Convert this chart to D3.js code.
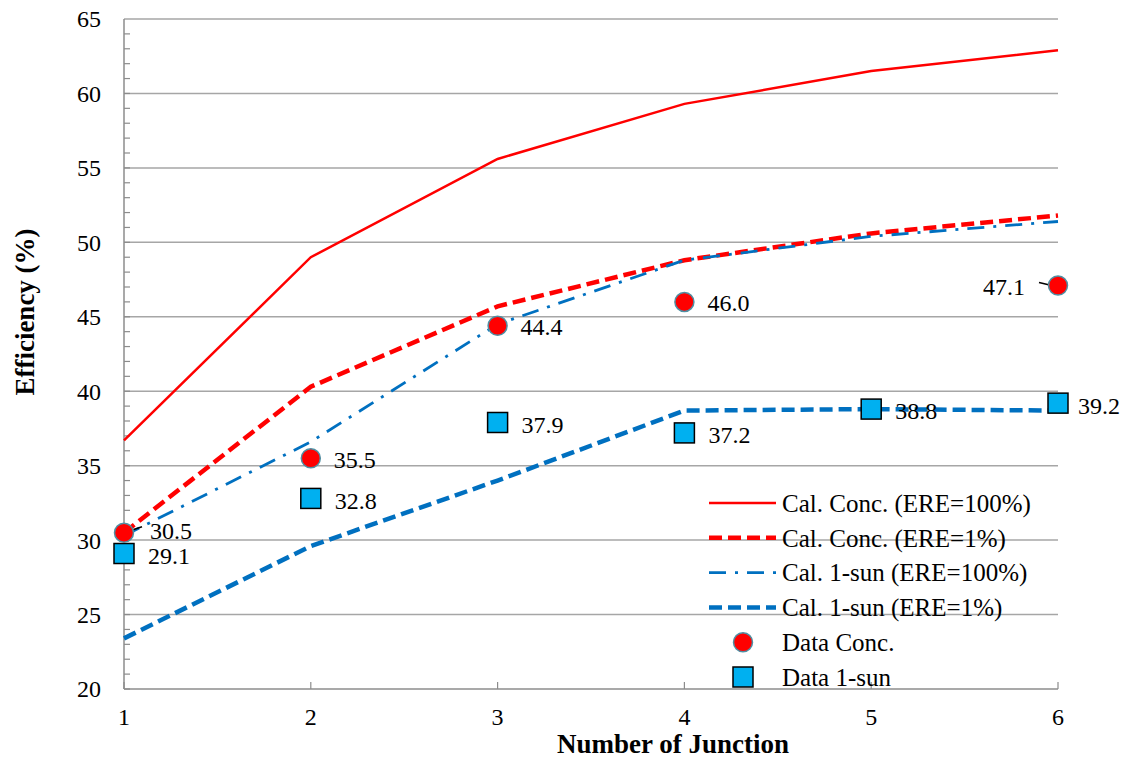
<!DOCTYPE html>
<html>
<head>
<meta charset="utf-8">
<script src="https://cdn.jsdelivr.net/npm/d3@7"></script>
<style>
  body { margin: 0; background: #fff; }
  text { font-family: "Liberation Serif", "Times New Roman", serif; fill: #000; }
</style>
</head>
<body>
<svg id="chart" width="1130" height="758"></svg>
<script>
// junction counts and series
var junctions = [1, 2, 3, 4, 5, 6];
var calConc100 = [36.7, 49.0, 55.6, 59.3, 61.5, 62.9];
var calConc1 = [30.5, 40.3, 45.7, 48.8, 50.6, 51.8];
var calSun100 = [30.3, 36.6, 44.5, 48.8, 50.4, 51.4];
var calSun1 = [23.4, 29.6, 34.0, 38.7, 38.8, 38.7];
var dataConcX = [1, 2, 3, 4, 6];
var dataConc = [30.5, 35.5, 44.4, 46.0, 47.1];
var dataSunX = [1, 2, 3, 4, 5, 6];
var dataSun = [29.1, 32.8, 37.9, 37.2, 38.8, 39.2];
var yTicks = [20, 25, 30, 35, 40, 45, 50, 55, 60, 65];

var svg = d3.select("#chart");
var x = d3.scaleLinear().domain([1, 6]).range([124, 1058]);
var y = d3.scaleLinear().domain([20, 65]).range([689, 19]);
var grey = "#8c8c8c";

// grid lines
svg.append("g").selectAll("line").data(yTicks.slice(1)).join("line")
    .attr("x1", x(1)).attr("x2", x(6))
    .attr("y1", d => y(d)).attr("y2", d => y(d))
    .attr("stroke", "#a6a6a6").attr("stroke-width", 1.5);

// y axis, minor ticks inward
svg.append("line").attr("x1", x(1)).attr("x2", x(1)).attr("y1", y(20)).attr("y2", y(65))
    .attr("stroke", grey).attr("stroke-width", 1.5);
svg.append("g").selectAll("line").data(d3.range(20, 65)).join("line")
    .attr("x1", x(1)).attr("x2", x(1) + 6)
    .attr("y1", d => y(d)).attr("y2", d => y(d))
    .attr("stroke", grey).attr("stroke-width", 1.2);
svg.append("g").selectAll("text").data(yTicks).join("text")
    .attr("x", 101).attr("y", d => y(d)).attr("dy", "0.35em")
    .attr("text-anchor", "end").style("font-size", "24px")
    .text(d => d);

// x axis, ticks inward
svg.append("line").attr("x1", x(1)).attr("x2", x(6)).attr("y1", y(20)).attr("y2", y(20))
    .attr("stroke", grey).attr("stroke-width", 1.5);
svg.append("g").selectAll("line").data(junctions).join("line")
    .attr("x1", d => x(d)).attr("x2", d => x(d))
    .attr("y1", y(20)).attr("y2", y(20) - 7)
    .attr("stroke", grey).attr("stroke-width", 1.2);
svg.append("g").selectAll("text").data(junctions).join("text")
    .attr("x", d => x(d)).attr("y", 725)
    .attr("text-anchor", "middle").style("font-size", "24px")
    .text(d => d);

svg.append("text").attr("x", 673).attr("y", 753).attr("text-anchor", "middle")
    .style("font-size", "27px").style("font-weight", "bold")
    .text("Number of Junction");
svg.append("text").attr("transform", "translate(34,312) rotate(-90)")
    .attr("text-anchor", "middle")
    .style("font-size", "27px").style("font-weight", "bold")
    .text("Efficiency (%)");

// calculated curves
var series = [
  {name: "Cal. Conc. (ERE=100%)", vals: calConc100, color: "#ff0000", w: 2.5, dash: null},
  {name: "Cal. Conc. (ERE=1%)", vals: calConc1, color: "#ff0000", w: 4.5, dash: "13,6"},
  {name: "Cal. 1-sun (ERE=100%)", vals: calSun100, color: "#0070c0", w: 2.8, dash: "17,9,3,9"},
  {name: "Cal. 1-sun (ERE=1%)", vals: calSun1, color: "#0070c0", w: 4.5, dash: "13,6"}
];
var line = d3.line().x((d, i) => x(junctions[i])).y(d => y(d));
series.forEach(function(s){
    svg.append("path").datum(s.vals)
	.attr("d", line)
	.attr("fill", "none")
	.attr("stroke", s.color)
	.attr("stroke-width", s.w)
	.attr("stroke-dasharray", s.dash);
});

// leader lines for the end labels
svg.append("line").attr("x1", x(1)).attr("y1", y(dataConc[0]))
    .attr("x2", x(1) + 18).attr("y2", y(dataConc[0]) - 6)
    .attr("stroke", "#000").attr("stroke-width", 1.5);
svg.append("line").attr("x1", x(6) - 2).attr("y1", y(dataConc[4]) + 1)
    .attr("x2", x(6) - 19).attr("y2", y(dataConc[4]) - 3)
    .attr("stroke", "#000").attr("stroke-width", 1.5);

// data markers
function circle(g, cx, cy){
    g.append("circle").attr("cx", cx).attr("cy", cy).attr("r", 9.5)
	.attr("fill", "#ff0000").attr("stroke", "#4f8fa3").attr("stroke-width", 1.5);
}
function square(g, cx, cy){
    g.append("rect").attr("x", cx - 10).attr("y", cy - 10)
	.attr("width", 20).attr("height", 20)
	.attr("fill", "#00b0f0").attr("stroke", "#000").attr("stroke-width", 1.5);
}
var marks = svg.append("g");
dataSun.forEach((v, i) => square(marks, x(dataSunX[i]), y(v)));
dataConc.forEach((v, i) => circle(marks, x(dataConcX[i]), y(v)));

// value labels
var labels = svg.append("g").style("font-size", "24px");
dataConc.forEach(function(v, i){
    var last = i == dataConc.length - 1;
    labels.append("text")
	.attr("x", last ? x(dataConcX[i]) - 33 : x(dataConcX[i]) + (i == 0 ? 26 : 23))
	.attr("y", y(v) + (i == 0 ? -2 : 1)).attr("dy", "0.35em")
	.attr("text-anchor", last ? "end" : "start")
	.text(v.toFixed(1));
});
dataSun.forEach(function(v, i){
    labels.append("text")
	.attr("x", x(dataSunX[i]) + (i == 5 ? 20 : 24))
	.attr("y", y(v) + 2).attr("dy", "0.35em")
	.text(v.toFixed(1));
});

// legend
var leg = svg.append("g").attr("transform", "translate(709,503)");
series.forEach(function(s, i){
    leg.append("line").attr("x1", 0).attr("x2", 67)
	.attr("y1", i * 34.8).attr("y2", i * 34.8)
	.attr("stroke", s.color).attr("stroke-width", s.w)
	.attr("stroke-dasharray", s.dash);
    leg.append("text").attr("x", 73).attr("y", i * 34.8).attr("dy", "0.35em")
	.style("font-size", "25px").text(s.name);
});
circle(leg, 34, 4 * 34.8);
leg.append("text").attr("x", 73).attr("y", 4 * 34.8).attr("dy", "0.35em")
    .style("font-size", "25px").text("Data Conc.");
square(leg, 34, 5 * 34.8);
leg.append("text").attr("x", 73).attr("y", 5 * 34.8).attr("dy", "0.35em")
    .style("font-size", "25px").text("Data 1-sun");
</script>
</body>
</html>
